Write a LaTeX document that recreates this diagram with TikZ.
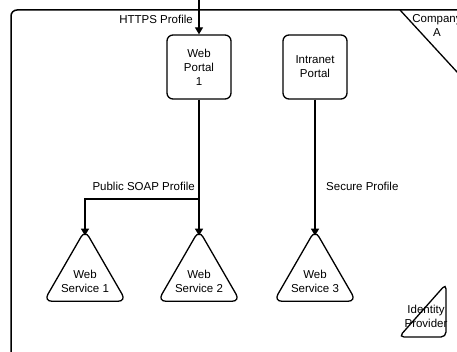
\documentclass[tikz,border=0pt]{standalone}
\usepackage{fontspec}
\setmainfont{Liberation Sans}
\usetikzlibrary{arrows.meta}
\usetikzlibrary{positioning}
\usetikzlibrary{shapes.geometric}

\begin{document}
\begin{tikzpicture}[
    x=1pt, y=-1pt,
    font=\fontsize{11.5}{14}\selectfont,
    portal/.style={draw, line width=1.3pt, rounded corners=6pt, minimum width=64pt, minimum height=64pt, align=center, inner sep=0pt},
    service/.style={draw, line width=1.3pt, regular polygon, regular polygon sides=3, rounded corners=8pt, minimum size=95pt, inner sep=0pt},
    svclabel/.style={align=center, yshift=-4pt},
    flow/.style={line width=1.3pt, -{Triangle[length=7pt,width=8pt]}},
    lbl/.style={inner sep=1pt},
 ]
    \clip (0,0) rectangle (457,352);

    % company boundary
    \draw[line width=1.5pt, rounded corners=6pt] (11,10) rectangle (520,420);
    \draw[line width=1.3pt] (400,10) -- (480,97);
    \node[align=center] (company) at (437,25) {Company\\A};

    \node[portal] (webportal) at (199,67) {Web\\Portal\\1};
    \node[portal] (intranet) at (315,67) {Intranet\\Portal};

    \node[service, label={[svclabel]center:Web\\Service 1}] (ws1) at (85,277.5) {};
    \node[service, label={[svclabel]center:Web\\Service 2}] (ws2) at (199,277.5) {};
    \node[service, label={[svclabel]center:Web\\Service 3}] (ws3) at (315,277.5) {};

    \coordinate (entry) at (199,-5);
    \coordinate (branch) at (199,199);

    \draw[flow] (entry) -- (webportal.north);
    \draw[flow, shorten >=-7pt] (webportal.south) -- (ws2.north);
    \draw[flow, shorten >=-7pt] (branch) -| (ws1.north);
    \draw[flow, shorten >=-7pt] (intranet.south) -- (ws3.north);

    \node[lbl, anchor=east] (httpslbl) at (194,19) {HTTPS Profile};
    \node[lbl, anchor=east] (soaplbl) at (196,186) {Public SOAP Profile};
    \node[lbl, anchor=west] (securelbl) at (325,186) {Secure Profile};

    % identity provider, cut by the frame edge
    \node[align=center] (idp) at (426,316) {Identity\\Provider};
    \draw[line width=1.3pt, rounded corners=5pt] (399,337) -- (446,284) -- (446,337) -- cycle;
\end{tikzpicture}
\end{document}
